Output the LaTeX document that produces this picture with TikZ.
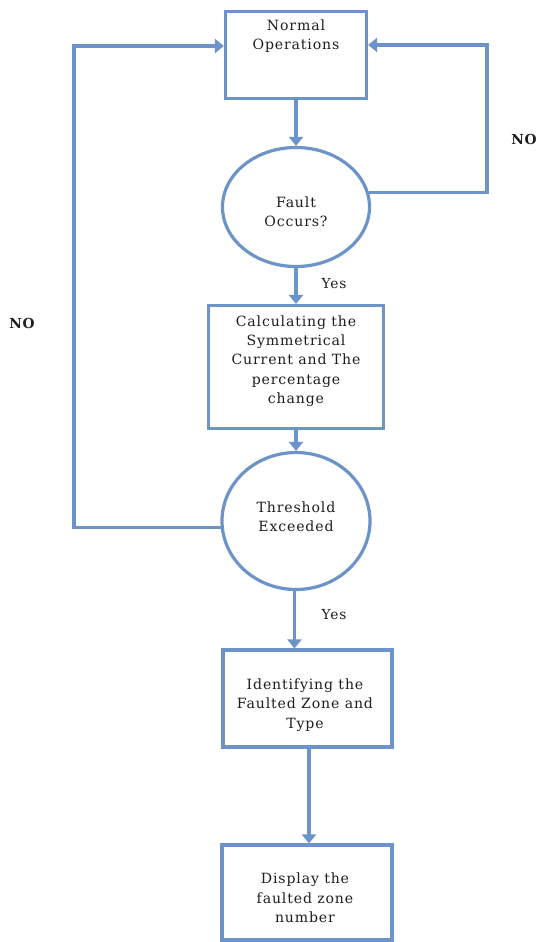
\documentclass[tikz,border=0pt]{standalone}
\usepackage{fontspec}
\setmainfont{DejaVu Serif}[LetterSpace=6]
\usetikzlibrary{shapes.geometric,arrows.meta}
\definecolor{lineblue}{RGB}{108,148,200}
\definecolor{txtgray}{RGB}{30,30,30}
\tikzset{
  box/.style={draw=lineblue, line width=3.2pt, fill=white, rectangle, inner sep=0pt},
  oval/.style={draw=lineblue, line width=3.2pt, fill=white, ellipse, inner sep=0pt},
  txt/.style={align=center, font=\fontsize{14.1}{19.3}\selectfont, text=txtgray, inner sep=0pt},
  arr/.style={draw=lineblue, line width=3.2pt, -{Triangle[length=9pt,width=14pt]}},
  lbl/.style={font=\fontsize{13.8}{15}\selectfont, text=txtgray, inner sep=0pt}
}
\begin{document}
\begin{tikzpicture}[x=1pt,y=-1pt]
\useasboundingbox[fill=white] (0,0) rectangle (536,942);
% shapes
\node[box, minimum width=141pt, minimum height=87pt] (n1) at (296,55) {};
\node[oval, minimum width=147pt, minimum height=119pt] (e1) at (296,207) {};
\node[box, minimum width=175pt, minimum height=123pt] (n2) at (296,367) {};
\node[oval, minimum width=148pt, minimum height=137pt] (e2) at (296,521) {};
\node[box, minimum width=169pt, minimum height=97pt] (n3) at (307.5,698.5) {};
\node[box, minimum width=170pt, minimum height=95pt] (n4) at (307,892.5) {};
% texts
\node[txt] (t1) at (296,36) {Normal\\Operations};
\node[txt] (te1) at (296,212) {Fault\\Occurs?};
\node[txt] (t2) at (296,361) {Calculating the\\Symmetrical\\Current and The\\percentage\\change};
\node[txt] (te2) at (296,517) {Threshold\\Exceeded};
\node[txt] (t3) at (305,705) {Identifying the\\Faulted Zone and\\Type};
\node[txt] (t4) at (305,898) {Display the\\faulted zone\\number};
% labels
\node[lbl] (y1) at (334,284) {Yes};
\node[lbl] (y2) at (334,615) {Yes};
\node[lbl, font=\fontsize{13.8}{15}\selectfont\bfseries] (no1) at (22,323) {NO};
\node[lbl, font=\fontsize{13.8}{15}\selectfont\bfseries] (no2) at (524,139) {NO};
% corner coordinates
\coordinate (rc) at (487,45);
\coordinate (lc) at (74,46);
\coordinate (n3out) at (309,747);
% connectors
\draw[arr] (n1.south) -- (e1.north);
\draw[arr] (e1.south) -- (n2.north);
\draw[arr] (n2.south) -- (e2.north);
\draw[arr] ([xshift=-1.5pt]e2.south) -- ([xshift=-1.5pt]e2.south |- n3.north);
\draw[arr] (n3out) -- (n3out |- n4.north);
\draw[arr] (e1.11) -| (rc) -- ([yshift=10pt]n1.east);
\draw[arr] (e2.185) -| (lc) -- ([yshift=9pt]n1.west);
\end{tikzpicture}
\end{document}
